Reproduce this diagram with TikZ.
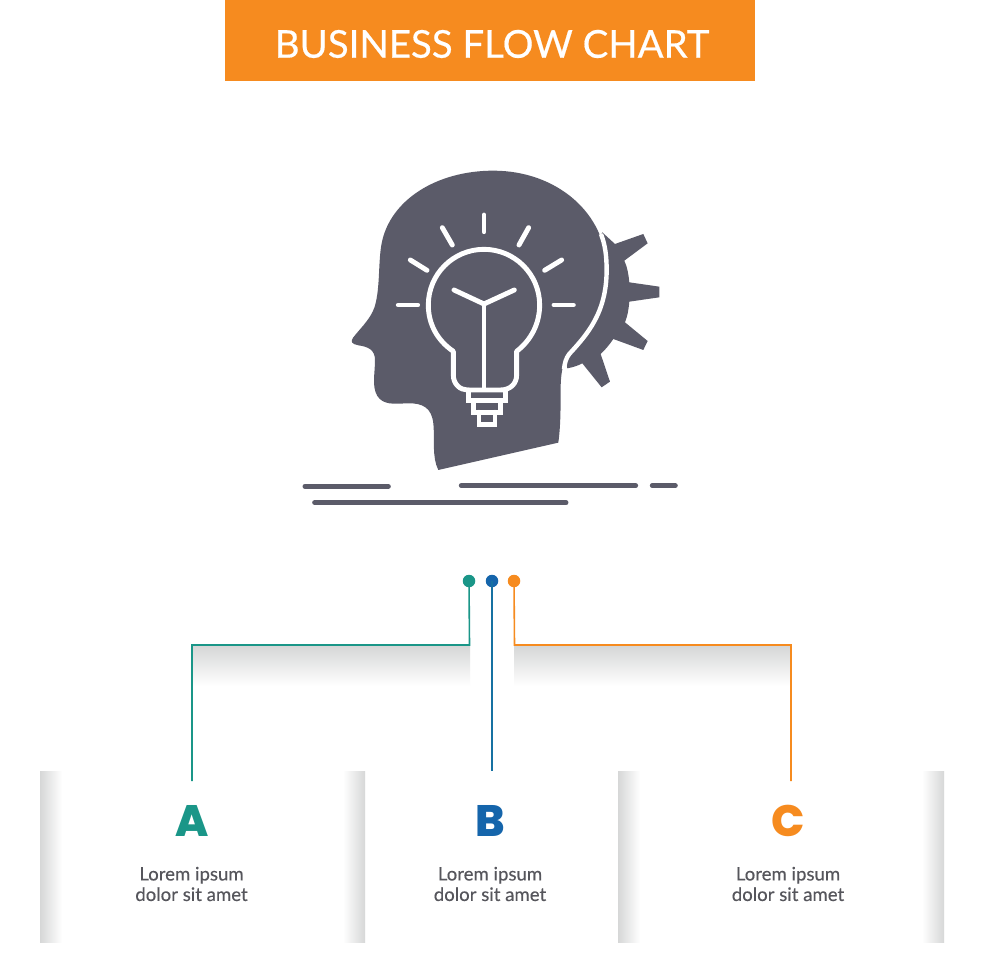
\documentclass[tikz,border=0pt]{standalone}
\usepackage{fontspec}
\setmainfont{Lato}[FakeBold=0.25]
\newfontfamily\bodyfont{Lato}[FakeBold=0.25]
\newfontfamily\titlefont{Lato}[FakeBold=0.45]
\newfontfamily\letterfont{Poppins}[BoldFont={Poppins ExtraBold}]
\definecolor{cteal}{HTML}{1A9688}
\definecolor{cblue}{HTML}{1565AB}
\definecolor{corange}{HTML}{F68B1F}
\definecolor{cgray}{HTML}{5B5B69}
\definecolor{ctext}{HTML}{56565C}
\definecolor{cshade}{HTML}{D6D7D7}
\tikzset{
 wire/.style={line width=1.6pt},
 dotnode/.style={circle,inner sep=0pt,minimum size=12.5pt},
 letternode/.style={font=\letterfont\bfseries\fontsize{44}{44}\selectfont,inner sep=0pt},
 bodytext/.style={font=\bodyfont\fontsize{18.6}{20.5}\selectfont,text=ctext,align=center,inner sep=0pt},
 whiteline/.style={draw=white,line width=4.9pt,line cap=round,line join=round},
 ground/.style={draw=cgray,line width=5pt,line cap=round},
}
\begin{document}
\begin{tikzpicture}[x=1pt,y=-1pt]
\useasboundingbox (0,0) rectangle (980,980);
\fill[white] (0,0) rectangle (980,980);
% title
\fill[corange] (225,0) rectangle (755,81);
\node[font=\titlefont\fontsize{38.4}{39}\selectfont,text=white,inner sep=0pt] (title) at (492,44) {BUSINESS FLOW CHART};
% icon
\begin{scope}[shift={(290pt,-160pt)},x=0.3333pt,y=-0.3333pt]
 \fill[cgray] (937,217) -- (975,252) -- (1060,222) -- (1073,250) -- (1003,302)
   .. controls (1012,320) and (1016,345) .. (1018,367) -- (1108,380) -- (1108,412) -- (1018,425)
   .. controls (1016,450) and (1012,470) .. (1005,487) -- (1073,543) -- (1060,570) -- (970,537)
   .. controls (958,555) and (945,570) .. (932,582) -- (960,665) -- (935,682) -- (877,610)
   .. controls (862,618) and (848,622) .. (832,625) -- (820,560) -- (900,300) -- cycle;
 \fill[cgray] (445,930) -- (805,848)
   .. controls (812,800) and (812,740) .. (812,690)
   .. controls (812,640) and (818,605) .. (838,582)
   .. controls (890,525) and (950,460) .. (950,330)
   .. controls (950,160) and (800,32) .. (610,32)
   .. controls (440,32) and (300,120) .. (275,250)
   .. controls (265,302) and (270,370) .. (258,425)
   .. controls (250,470) and (215,500) .. (190,532)
   .. controls (180,545) and (185,552) .. (205,556)
   .. controls (235,560) and (255,570) .. (255,600)
   .. controls (255,640) and (245,680) .. (262,708)
   .. controls (280,735) and (310,732) .. (350,730)
   .. controls (400,728) and (425,745) .. (430,790)
   .. controls (435,840) and (425,890) .. (445,930) -- cycle;
 \draw[draw=white,line width=4.4pt] (822,628) .. controls (824,610) and (828,594) .. (838,582)
   .. controls (890,525) and (950,460) .. (950,330)
   .. controls (950,290) and (946,255) .. (933,222);
 % bulb
 \draw[whiteline] (490,574) .. controls (440,540) and (415,490) .. (415,435)
   arc[start angle=180,end angle=360,radius=167]
   .. controls (749,490) and (724,540) .. (680,574)
   -- (680,645) .. controls (680,672) and (660,690) .. (632,690)
   -- (532,690) .. controls (510,690) and (490,672) .. (490,645) -- cycle;
 \draw[whiteline,line cap=butt] (582,432) -- (582,690);
 \draw[whiteline] (492,390) -- (582,432) -- (673,390);
 \draw[whiteline,line join=miter] (536,690) -- (536,722) -- (647,722) -- (647,690);
 \draw[whiteline,line join=miter] (551,722) -- (551,757) -- (632,757) -- (632,722);
 \draw[whiteline,line join=miter] (567,757) -- (567,794) -- (615,794) -- (615,757);
 \draw[whiteline] (582,165) -- (582,215);
 \draw[whiteline] (457,203) -- (487,255);
 \draw[whiteline] (716,203) -- (687,255);
 \draw[whiteline] (361,300) -- (411,331);
 \draw[whiteline] (815,300) -- (764,331);
 \draw[whiteline] (325,435) -- (383,435);
 \draw[whiteline] (792,435) -- (850,435);
 % ground lines
 \draw[ground] (45,979) -- (295,979);
 \draw[ground] (514,977) -- (1037,977);
 \draw[ground] (1087,977) -- (1156,977);
 \draw[ground] (74,1028) -- (828,1028);
\end{scope}
% shadows
\shade[top color=cshade,bottom color=white] (193,646) rectangle (470,686);
\shade[top color=cshade,bottom color=white] (514,646) rectangle (791,686);
\shade[left color=cshade,right color=white] (40,771) rectangle (62,942);
\shade[left color=white,right color=cshade] (343,771) rectangle (365,942);
\shade[left color=cshade,right color=white] (618,771) rectangle (640,942);
\shade[left color=white,right color=cshade] (922,771) rectangle (944,942);
% connectors
\node[dotnode,fill=cteal] (da) at (469,581) {};
\node[dotnode,fill=cblue] (db) at (492,581) {};
\node[dotnode,fill=corange] (dc) at (514,581) {};
\coordinate (a1) at (469.5,645); \coordinate (a2) at (192,645); \coordinate (a3) at (192,781);
\coordinate (b1) at (492,771);
\coordinate (c1) at (514.5,645); \coordinate (c2) at (791,645); \coordinate (c3) at (791,781);
\draw[wire,draw=cteal] (da.center) -- (a1) -- (a2) -- (a3);
\draw[wire,draw=cblue!75!cteal] (db.center) -- (b1);
\draw[wire,draw=corange] (dc.center) -- (c1) -- (c2) -- (c3);
% labels
\node[letternode,text=cteal] (la) at (192,821) {A};
\node[letternode,text=cblue] (lb) at (490.5,821) {B};
\node[letternode,text=corange] (lc) at (788,821) {C};
\node[bodytext] (ta) at (191.5,884) {Lorem ipsum\\dolor sit amet};
\node[bodytext] (tb) at (490,884) {Lorem ipsum\\dolor sit amet};
\node[bodytext] (tc) at (788,884) {Lorem ipsum\\dolor sit amet};
\end{tikzpicture}
\end{document}
